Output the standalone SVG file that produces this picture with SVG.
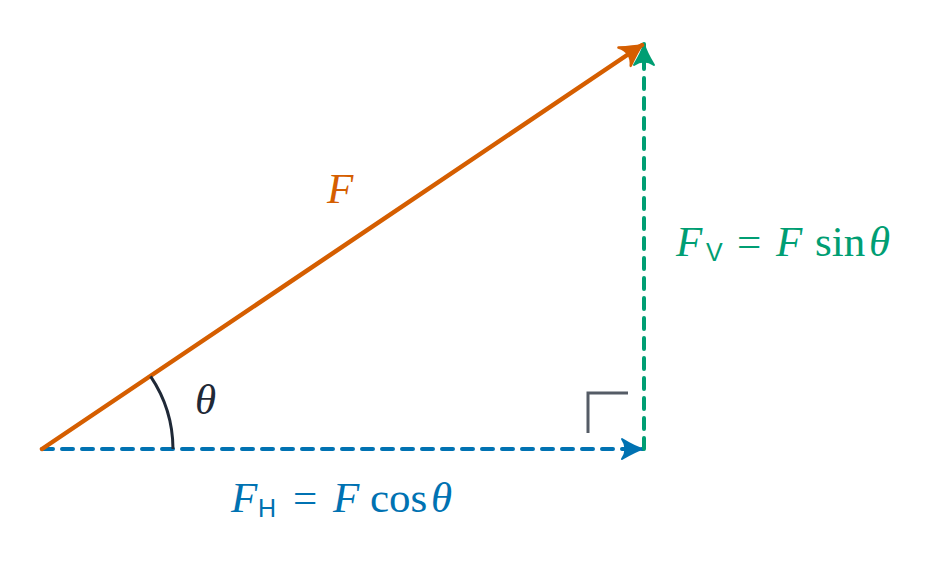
<svg xmlns="http://www.w3.org/2000/svg" width="946" height="572" viewBox="0 0 946 572">
<defs>
<style>
.lbl{font-family:"Liberation Serif","DejaVu Serif",serif;font-size:43px}
.it{font-style:italic}
.sub{font-family:"Liberation Sans","DejaVu Sans",sans-serif;font-size:25px;font-style:normal}
</style>
<marker id="aO" markerUnits="userSpaceOnUse" markerWidth="50" markerHeight="50" viewBox="-25 -25 50 50" refX="0" refY="0" orient="auto">
<path d="M-21,-11 Q-8,-3 0,0 Q-8,3 -21,11 Q-12,0 -21,-11 Z" fill="#D55E00" stroke="#D55E00" stroke-width="2.5" stroke-linejoin="round"/>
</marker>
<marker id="aB" markerUnits="userSpaceOnUse" markerWidth="50" markerHeight="50" viewBox="-25 -25 50 50" refX="0" refY="0" orient="auto">
<path d="M-21,-10 Q-8,-2 0,0 Q-8,2 -21,10 Q-14,0 -21,-10 Z" fill="#0072B2" stroke="#0072B2" stroke-width="2" stroke-linejoin="round"/>
</marker>
<marker id="aG" markerUnits="userSpaceOnUse" markerWidth="50" markerHeight="50" viewBox="-25 -25 50 50" refX="0" refY="0" orient="auto">
<path d="M-21,-10 Q-8,-2 0,0 Q-8,2 -21,10 Q-14,0 -21,-10 Z" fill="#009E73" stroke="#009E73" stroke-width="2" stroke-linejoin="round"/>
</marker>
</defs>
<rect width="946" height="572" fill="#ffffff"/>
<g id="connectors" fill="none" stroke-linecap="round">
<line x1="42" y1="449" x2="643" y2="449" stroke="#0072B2" stroke-width="4" stroke-dasharray="11 9" marker-end="url(#aB)"/>
<line x1="644" y1="449" x2="644" y2="44" stroke="#009E73" stroke-width="4" stroke-dasharray="11 9" marker-end="url(#aG)"/>
<line x1="42" y1="449" x2="642" y2="45" stroke="#D55E00" stroke-width="4.5" marker-end="url(#aO)"/>
</g>
<g id="angle">
<path d="M150.6,376.4 A131,131 0 0 1 173,449" fill="none" stroke="#1f2937" stroke-width="3"/>
<text x="195" y="414" class="lbl it" fill="#1f2937" font-size="38">θ</text>
</g>
<g id="right-angle">
<polyline points="588,433 588,393 628,393" fill="none" stroke="#555c66" stroke-width="3"/>
</g>
<g id="label-F">
<text x="327" y="203" class="lbl it" fill="#D55E00">F</text>
</g>
<g id="label-FH">
<text y="512" class="lbl" fill="#0072B2"><tspan x="231" class="it">F</tspan><tspan x="258" class="sub" dy="5">H</tspan><tspan x="293" dy="-5">=</tspan><tspan x="333" class="it">F</tspan><tspan x="370">cos</tspan><tspan x="431" class="it">θ</tspan></text>
</g>
<g id="label-FV">
<text y="256" class="lbl" fill="#009E73"><tspan x="676" class="it">F</tspan><tspan x="706" class="sub" dy="5">V</tspan><tspan x="737" dy="-5">=</tspan><tspan x="776" class="it">F</tspan><tspan x="815">sin</tspan><tspan x="869" class="it">θ</tspan></text>
</g>
</svg>
